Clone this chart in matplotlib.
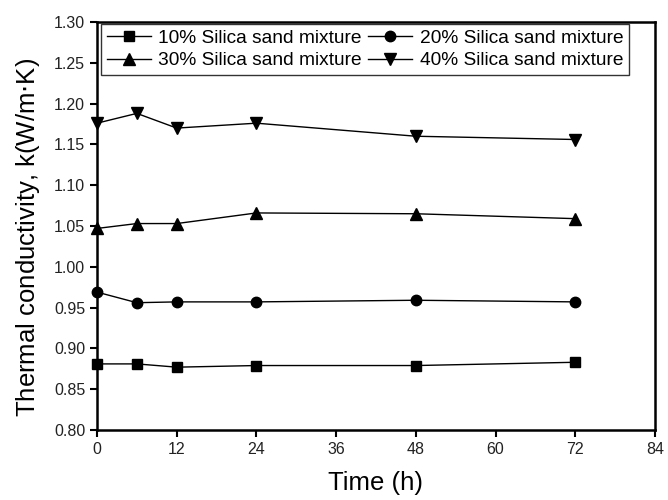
import matplotlib.pyplot as plt

plt.rcParams['font.family'] = ['Liberation Sans', 'DejaVu Sans']

time_h = [0, 6, 12, 24, 48, 72]
k_10 = [0.881, 0.881, 0.877, 0.879, 0.879, 0.883]
k_20 = [0.969, 0.956, 0.957, 0.957, 0.959, 0.957]
k_30 = [1.047, 1.053, 1.053, 1.066, 1.065, 1.059]
k_40 = [1.176, 1.188, 1.170, 1.176, 1.160, 1.156]
labels = ['10% Silica sand mixture', '20% Silica sand mixture',
          '30% Silica sand mixture', '40% Silica sand mixture']

fig = plt.figure(figsize=(6.68, 5), dpi=100)
ax = fig.add_axes([97 / 668, 1 - 430 / 500, 558 / 668, 408 / 500])

l10, = ax.plot(time_h, k_10, 'k-s', lw=1, ms=7, label=labels[0], clip_on=False)
l20, = ax.plot(time_h, k_20, 'k-o', lw=1, ms=7.5, label=labels[1], clip_on=False)
l30, = ax.plot(time_h, k_30, 'k-^', lw=1, ms=8, label=labels[2], clip_on=False)
l40, = ax.plot(time_h, k_40, 'k-v', lw=1, ms=8, label=labels[3], clip_on=False)

ax.set_xlim(0, 84)
ax.set_ylim(0.80, 1.30)
ax.set_xticks(range(0, 85, 12))
ax.set_yticks([0.80 + 0.05 * i for i in range(11)])
ax.set_yticklabels(['%.2f' % (0.80 + 0.05 * i) for i in range(11)])
ax.tick_params(axis='both', direction='out', length=5, width=1.5,
               labelsize=11.5, colors='black', labelcolor='#222222')
ax.tick_params(top=False, right=False)
for s in ax.spines.values():
    s.set_linewidth(1.8)

ax.set_xlabel('Time (h)', fontsize=18.5, labelpad=10)
ax.set_ylabel('Thermal conductivity, k(W/m$\\cdot$K)', fontsize=18.5, labelpad=8.5)
ax.yaxis.label.set_y(0.473)

# row-wise order: 10, 20 on top row, 30, 40 below
leg = ax.legend([l10, l30, l20, l40], [labels[0], labels[2], labels[1], labels[3]],
                loc='upper left', bbox_to_anchor=(4 / 558, 1 - 2 / 408),
                ncol=2, fontsize=13.8, frameon=True, fancybox=False,
                edgecolor='black', borderaxespad=0, handlelength=2.3,
                handletextpad=0.4, columnspacing=0.3, labelspacing=0.25,
                borderpad=0.3)
leg.get_frame().set_linewidth(1.0)

fig.savefig('out.png', dpi=100)
